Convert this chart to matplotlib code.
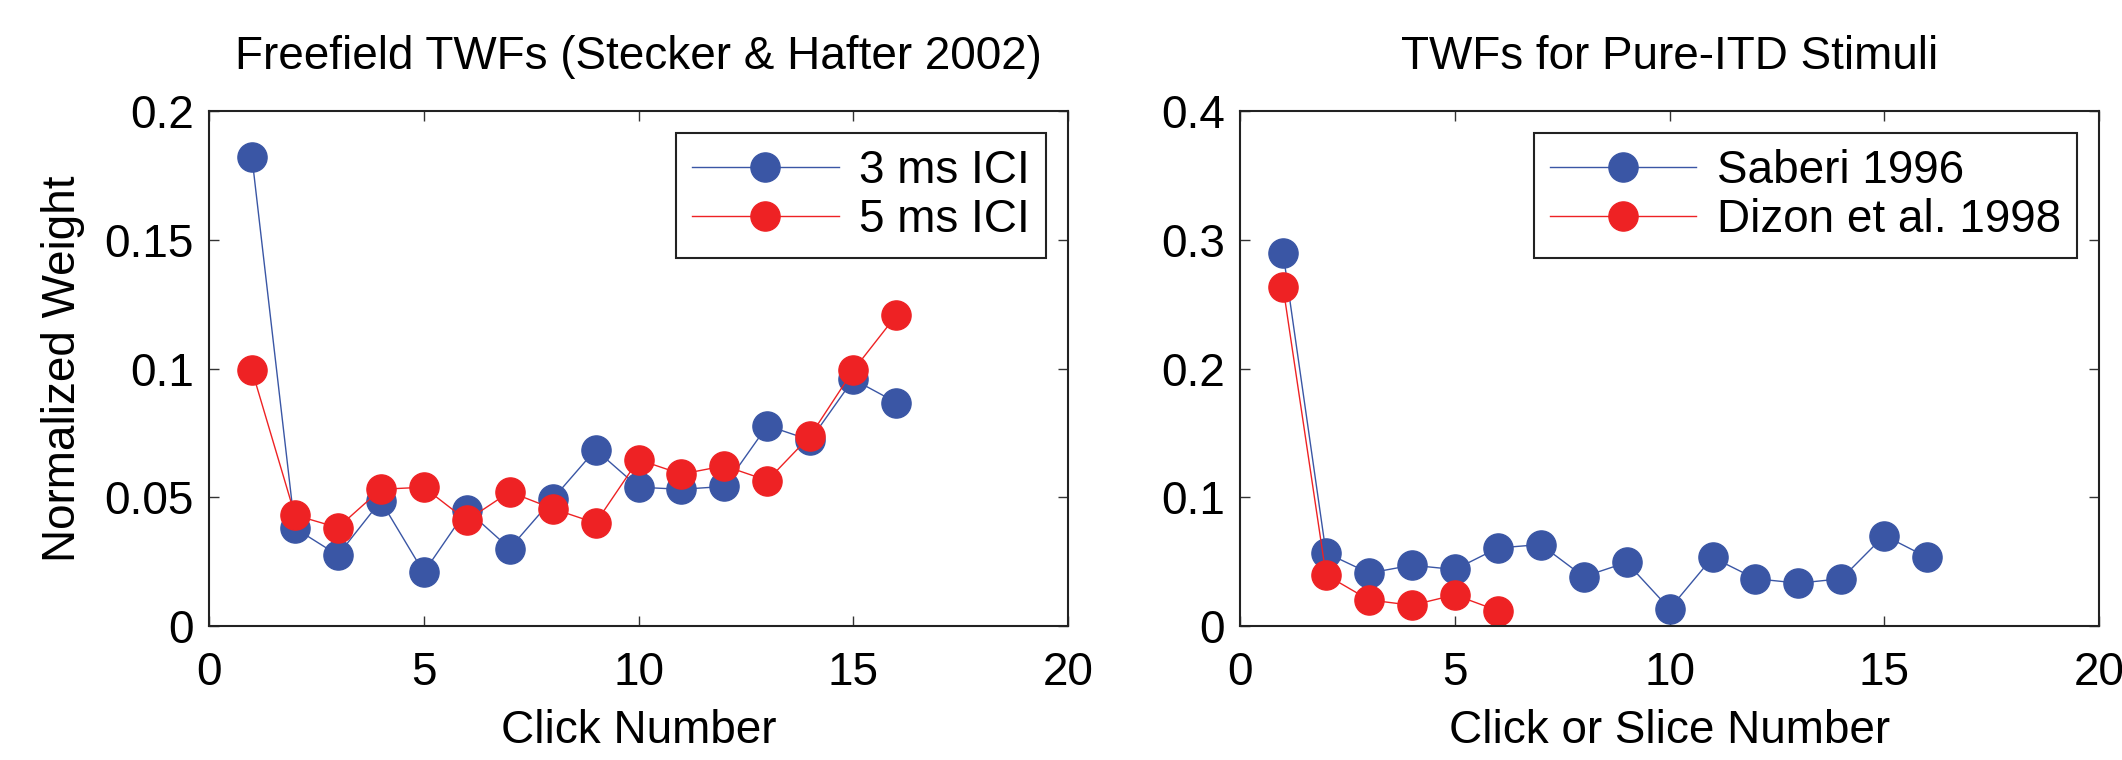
import matplotlib
matplotlib.use('Agg')
import matplotlib.pyplot as plt
from matplotlib.ticker import FormatStrFormatter

plt.rcParams['font.family'] = ['Liberation Sans', 'DejaVu Sans']

blue = '#3A56A5'
red = '#EE2224'

# left panel: freefield TWFs (Stecker & Hafter 2002)
clicks = list(range(1, 17))
ici3 = [0.182, 0.038, 0.0275, 0.0486, 0.0208, 0.0451, 0.0301, 0.0493,
        0.0685, 0.0539, 0.0531, 0.0542, 0.0778, 0.0722, 0.0958, 0.0868]
ici5 = [0.0993, 0.0431, 0.0382, 0.0531, 0.0539, 0.041, 0.0521, 0.0456,
        0.040, 0.0646, 0.059, 0.0622, 0.0565, 0.0739, 0.0993, 0.1206]

# right panel: pure-ITD stimuli
saberi_x = list(range(1, 17))
saberi = [0.290, 0.0569, 0.0411, 0.0472, 0.0439, 0.0606, 0.0633, 0.0383,
          0.0494, 0.0133, 0.0533, 0.0367, 0.0333, 0.0367, 0.0703, 0.0533]
dizon_x = list(range(1, 7))
dizon = [0.2633, 0.0397, 0.0203, 0.0161, 0.0242, 0.0119]

fs = 33
ms = 21
lw = 1.0

fig = plt.figure(figsize=(21.22, 7.6), dpi=100)
ax1 = fig.add_axes([0.0985, 0.1763, 0.4048, 0.6776])
ax2 = fig.add_axes([0.5844, 0.1763, 0.4048, 0.6776])


def style(ax, ymax, ystep):
    ax.set_xlim(0, 20)
    ax.set_ylim(0, ymax)
    ax.set_xticks(range(0, 21, 5))
    ax.set_yticks([i * ystep for i in range(int(round(ymax / ystep)) + 1)])
    ax.yaxis.set_major_formatter(FormatStrFormatter('%g'))
    ax.tick_params(direction='in', length=7, width=1, top=True, right=True,
                   labelsize=fs, color='#333333')
    ax.tick_params(axis='x', pad=18)
    ax.tick_params(axis='y', pad=11)
    for s in ax.spines.values():
        s.set_linewidth(1.5)
        s.set_color('#222222')


ax1.plot(clicks, ici3, '-o', color=blue, lw=lw, ms=ms, label='3 ms ICI')
ax1.plot(clicks, ici5, '-o', color=red, lw=lw, ms=ms, label='5 ms ICI')
style(ax1, 0.2, 0.05)
ax1.set_title('Freefield TWFs (Stecker & Hafter 2002)', fontsize=fs, pad=30)
ax1.set_xlabel('Click Number', fontsize=fs, labelpad=10)
ax1.set_ylabel('Normalized Weight', fontsize=fs, labelpad=14)

ax2.plot(saberi_x, saberi, '-o', color=blue, lw=lw, ms=ms, label='Saberi 1996')
ax2.plot(dizon_x, dizon, '-o', color=red, lw=lw, ms=ms, label='Dizon et al. 1998')
style(ax2, 0.4, 0.1)
ax2.set_title('TWFs for Pure-ITD Stimuli', fontsize=fs, pad=30)
ax2.set_xlabel('Click or Slice Number', fontsize=fs, labelpad=10)

for ax in (ax1, ax2):
    leg = ax.legend(loc='upper right', fontsize=fs, fancybox=False,
                    framealpha=1, edgecolor='#222222', borderaxespad=0.48,
                    handlelength=3.2, handletextpad=0.45, labelspacing=0.1,
                    borderpad=0.35)
    leg.get_frame().set_linewidth(1.5)

fig.savefig('out.png', dpi=100)
